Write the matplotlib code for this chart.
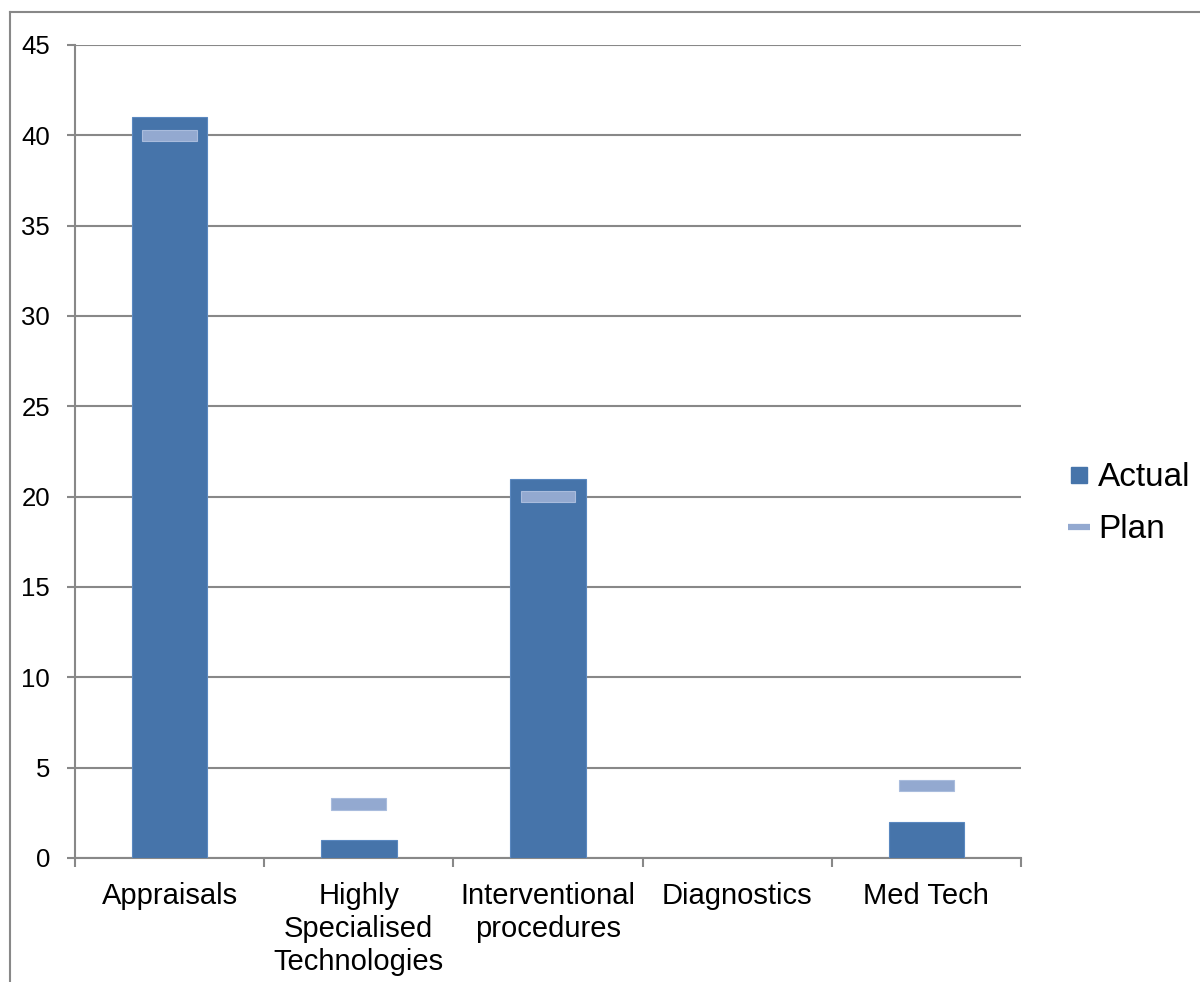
import numpy as np
import matplotlib
matplotlib.use("Agg")
import matplotlib.pyplot as plt
from matplotlib.lines import Line2D

categories = ["Appraisals", "Highly\nSpecialised\nTechnologies", "Interventional\nprocedures",
              "Diagnostics", "Med Tech"]
actual = [41, 1, 21, 0, 2]
plan = [40, 3, 20, np.nan, 4]
y_ticks = [0, 5, 10, 15, 20, 25, 30, 35, 40, 45]

bar_color = "#4674AA"
plan_color = "#93A9D0"
grid_color = "#888888"

plt.rcParams["font.family"] = ["Liberation Sans", "DejaVu Sans"]

fig = plt.figure(figsize=(12, 9.82), dpi=100)
ax = fig.add_axes([0.0625, 0.1263, 0.7883, 0.8279])

x = np.arange(len(categories))
ax.bar(x, actual, width=0.40, color=bar_color, edgecolor="#5A88C0", linewidth=0.8, zorder=3)

# plan markers: short flat bars centred on the plan value
plan_arr = np.array(plan, dtype=float)
mask = ~np.isnan(plan_arr)
mark_h = 0.64
ax.bar(x[mask], mark_h, bottom=plan_arr[mask] - mark_h / 2, width=0.29,
       color=plan_color, edgecolor="#A9BCDD", linewidth=0.8, zorder=4)

ax.set_xlim(-0.5, len(categories) - 0.5)
ax.set_ylim(0, 45)
ax.set_yticks(y_ticks)
ax.yaxis.grid(True, color=grid_color, linewidth=1.5, zorder=0)
ax.set_axisbelow(True)

ax.set_xticks(x)
ax.set_xticklabels(categories, fontsize=21, linespacing=1.23, va="top")
ax.set_xticks(np.arange(len(categories) + 1) - 0.5, minor=True)
ax.tick_params(axis="x", which="major", length=0, pad=17)
ax.tick_params(axis="x", which="minor", length=6.5, width=1.5, color=grid_color)
ax.tick_params(axis="y", length=6, width=1.5, color=grid_color, labelsize=18.5, pad=12)

for side in ("top", "right"):
    ax.spines[side].set_visible(False)
for side in ("left", "bottom"):
    ax.spines[side].set_color(grid_color)
    ax.spines[side].set_linewidth(1.5)

handles = [Line2D([0], [0], linestyle="none", marker="s", markersize=11.5,
                  markerfacecolor=bar_color, markeredgecolor=bar_color),
           Line2D([0], [0], color=plan_color, linewidth=4.5, solid_capstyle="butt")]
fig.legend(handles, ["Actual", "Plan"], loc="center left", bbox_to_anchor=(0.876, 0.487),
           frameon=False, fontsize=24, handlelength=0.65, handleheight=0.65,
           handletextpad=0.25, labelspacing=0.64, borderpad=0.0)

# outer frame (top and left edges)
fig.add_artist(Line2D([10 / 1200, 1.0], [1 - 12 / 982, 1 - 12 / 982],
                      transform=fig.transFigure, color=grid_color, linewidth=1.5))
fig.add_artist(Line2D([10 / 1200, 10 / 1200], [0.0, 1 - 12 / 982],
                      transform=fig.transFigure, color=grid_color, linewidth=1.5))

fig.savefig("out.png", dpi=100, facecolor="white")
